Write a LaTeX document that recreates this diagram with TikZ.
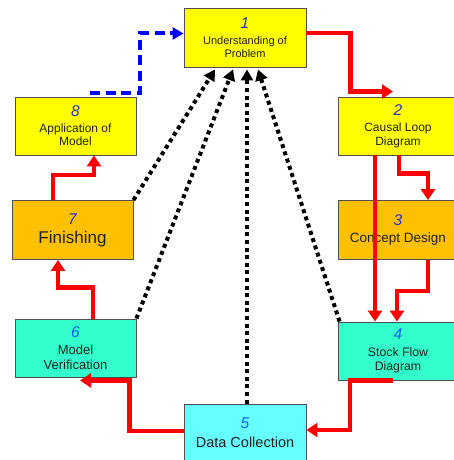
\documentclass[tikz,border=0pt]{standalone}
\usepackage{fontspec}
\setmainfont{Liberation Sans}
\usetikzlibrary{arrows.meta}
\definecolor{yel}{HTML}{FFFF00}
\definecolor{org}{HTML}{FFC000}
\definecolor{teal2}{HTML}{33FFCC}
\definecolor{cyan2}{HTML}{66FFFF}
\definecolor{boxline}{HTML}{505050}
\definecolor{txt}{HTML}{202020}
\definecolor{numA}{HTML}{2B2BC8}
\definecolor{numB}{HTML}{1060E8}
\newcommand\nA[1]{{\fontsize{15.5}{15.5}\selectfont\itshape\color{numA}#1}}
\newcommand\nB[1]{{\fontsize{15.5}{15.5}\selectfont\itshape\color{numB}#1}}
\tikzset{
  box/.style={draw=boxline, line width=0.9pt, minimum width=121pt, minimum height=58pt,
    align=center, inner sep=0pt, text=txt},
  redarr/.style={draw=red, line width=4.6pt, -{Triangle[width=14pt,length=11pt]}},
  dotarr/.style={draw=black, line width=4pt, dash pattern=on 4pt off 3.6pt,
    -{Triangle[width=12pt,length=11pt]}},
  bluearr/.style={draw=blue, line width=4pt, dash pattern=on 10pt off 5.5pt,
    -{Triangle[width=12pt,length=11pt]}},
}
\begin{document}
\begin{tikzpicture}[x=1pt,y=-1pt]
\useasboundingbox (0,0) rectangle (454,460);
\clip (0,0) rectangle (454,460);
\node[box, fill=yel, minimum width=122pt, minimum height=59pt, font=\fontsize{11}{12.5}\selectfont] (b1) at (245,37.5) {\nA{1}\\[4pt]Understanding of\\Problem};
\node[box, fill=yel, minimum width=120pt, font=\fontsize{12}{14}\selectfont] (b2) at (398,126) {\nA{2}\\[2pt]Causal Loop\\Diagram};
\node[box, fill=org, minimum width=120pt, minimum height=59pt, font=\fontsize{13.5}{15}\selectfont] (b3) at (398,230) {\nA{3}\\[2pt]Concept Design};
\node[box, fill=teal2, minimum width=120pt, font=\fontsize{12.3}{14.5}\selectfont] (b4) at (398,351) {\nB{4}\\[2pt]Stock Flow\\Diagram};
\node[box, fill=cyan2, minimum width=122pt, font=\fontsize{14.5}{16}\selectfont] (b5) at (245,433) {\nB{5}\\[3pt]Data Collection};
\node[box, fill=teal2, font=\fontsize{13}{15}\selectfont] (b6) at (75.5,348) {\nB{6}\\[2pt]Model\\Verification};
\node[box, fill=org, minimum height=59pt, font=\fontsize{17}{18}\selectfont] (b7) at (72.5,230) {\nA{7}\\[1pt]Finishing};
\node[box, fill=yel, font=\fontsize{12}{13.5}\selectfont] (b8) at (75.5,126) {\nA{8}\\[2pt]Application of\\Model};
% red flow
\draw[redarr] ([yshift=4.5pt]b1.east) -- ++(44,0) |- ([xshift=-5pt,yshift=5pt]b2.north);
\draw[redarr] ([xshift=1pt]b2.south) -- ++(0,18) -| ([xshift=30pt]b3.north);
\draw[redarr] ([xshift=-23pt]b2.south) -- ([xshift=-23pt]b4.north);
\draw[redarr] ([xshift=30pt]b3.south) -- ++(0,31) -| ([xshift=-1pt]b4.north);
\draw[redarr] ([xshift=-5pt]b4.south) -- ++(-43,0) |- ([yshift=3pt]b5.east);
\draw[redarr] ([yshift=2pt]b5.west) -- ++(-54,0) |- ([xshift=4.5pt,yshift=-3pt]b6.south);
\draw[redarr] ([xshift=17.5pt]b6.north) -- ++(0,-31) -| ([xshift=-14.5pt]b7.south);
\draw[redarr] ([xshift=-19.5pt]b7.north) -- ++(0,-25) -| ([xshift=18.5pt]b8.south);
% blue feedback
\draw[bluearr] ([xshift=14.5pt,yshift=4pt]b8.north) -- ++(50,0) |- ([yshift=4pt]b1.west);
% dotted to problem
\draw[dotarr] (b7.north east) -- ([xshift=-30pt,yshift=-2pt]b1.south);
\draw[dotarr] (b6.north east) -- ([xshift=-12pt,yshift=-2pt]b1.south);
\draw[dotarr] ([xshift=2pt]b5.north) -- ([xshift=2pt,yshift=-2pt]b1.south);
\draw[dotarr] ([xshift=2pt]b4.north west) -- ([xshift=13pt,yshift=-2pt]b1.south);
\end{tikzpicture}
\end{document}
